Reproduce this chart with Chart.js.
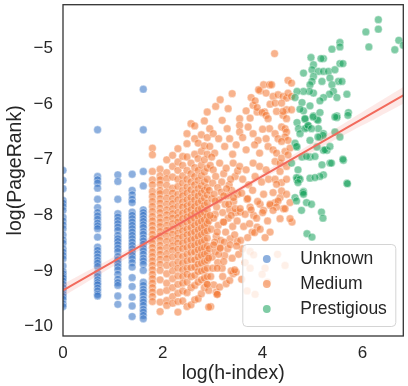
<!DOCTYPE html>
<html>
<head>
<meta charset="utf-8">
<script src="https://cdn.jsdelivr.net/npm/chart.js@4.4.1/dist/chart.umd.min.js"></script>
<style>
  html, body { margin: 0; padding: 0; background: #fff; }
  #wrap { width: 408px; height: 386px; }
</style>
</head>
<body>
<div id="wrap"><canvas id="chart"></canvas></div>
<script>
// categories and colours
const categories = ['Unknown', 'Medium', 'Prestigious'];
const catColors = ['rgba(45,110,195,0.55)', 'rgba(243,117,48,0.55)', 'rgba(20,160,90,0.55)'];

const xTicks = [0, 2, 4, 6];
const yTicks = [-10, -9, -8, -7, -6, -5];

// Unknown: h-index 1..5 -> discrete log columns
const unknownX = [0, 0.693, 1.099, 1.386, 1.609];
const unknownY = [
    [-7.19, -7.37, -7.52, -7.73, -7.78, -7.84, -7.91, -8.03, -8.1, -8.17, -8.24, -8.35, -8.44, -8.5, -8.6, -8.66, -8.72, -8.78, -8.91, -9.01, -9.05, -9.1, -9.13, -9.18, -9.24, -9.3, -9.36, -9.42, -9.46, -9.51, -9.59, -9.64],
    [-6.46, -7.3, -7.36, -7.42, -7.51, -7.71, -7.86, -7.95, -8.01, -8.07, -8.14, -8.19, -8.24, -8.39, -8.57, -8.63, -8.69, -8.75, -8.81, -8.86, -8.92, -9.04, -9.1, -9.16, -9.21, -9.25, -9.31, -9.36, -9.42, -9.45],
    [-7.27, -7.39, -7.71, -7.97, -8.03, -8.09, -8.15, -8.21, -8.27, -8.36, -8.42, -8.47, -8.53, -8.59, -8.65, -8.74, -8.8, -8.86, -8.92, -8.98, -9.06, -9.15, -9.21, -9.26, -9.45, -9.6],
    [-7.26, -7.55, -7.63, -7.71, -7.77, -7.94, -8.0, -8.06, -8.12, -8.18, -8.24, -8.3, -8.36, -8.42, -8.48, -8.54, -8.6, -8.66, -8.72, -8.78, -8.85, -8.93, -9.12, -9.28, -9.47, -9.63, -9.82],
    [-5.73, -6.46, -7.21, -7.47, -7.9, -7.95, -8.0, -8.06, -8.11, -8.17, -8.22, -8.29, -8.34, -8.41, -8.46, -8.52, -8.59, -8.64, -8.7, -8.77, -8.82, -8.88, -8.99, -9.2, -9.26, -9.33, -9.38, -9.44, -9.51, -9.56, -9.62, -9.69, -9.74, -9.8, -9.86]
];

// Medium: discrete columns for small h-index, then the continuous cloud
const mediumColX = [1.792, 1.946, 2.079, 2.197, 2.303, 2.398, 2.485, 2.565, 2.639, 2.708, 2.773, 2.833, 2.890];
const mediumColY = [
    [-6.79, -6.91, -7.21, -7.36, -7.45, -7.57, -7.66, -7.75, -7.84, -7.93, -8.02, -8.1, -8.18, -8.26, -8.34, -8.42, -8.5, -8.58, -8.66, -8.74, -8.82, -8.9, -8.98, -9.06, -9.14, -9.22, -9.3, -9.38, -9.46, -9.55],
    [-7.17, -7.29, -7.36, -7.44, -7.55, -7.61, -7.7, -7.78, -7.87, -7.95, -8.04, -8.12, -8.2, -8.29, -8.37, -8.45, -8.54, -8.62, -8.7, -8.79, -8.88, -8.99, -9.16, -9.38, -9.56, -9.73],
    [-7.0, -7.23, -7.34, -7.46, -7.58, -7.69, -7.8, -7.9, -7.99, -8.08, -8.18, -8.27, -8.37, -8.47, -8.58, -8.69, -8.78, -8.9, -9.05, -9.22, -9.35, -9.53, -9.62],
    [-6.92, -7.12, -7.31, -7.51, -7.6, -7.7, -7.79, -7.88, -7.97, -8.05, -8.15, -8.25, -8.34, -8.45, -8.55, -8.63, -8.75, -8.88, -9.0, -9.14, -9.3, -9.46, -9.58],
    [-6.8, -7.04, -7.19, -7.35, -7.48, -7.62, -7.72, -7.84, -7.95, -8.04, -8.12, -8.22, -8.32, -8.41, -8.5, -8.61, -8.72, -8.84, -8.95, -9.09, -9.24, -9.4, -9.55, -9.74],
    [-6.94, -7.1, -7.29, -7.42, -7.55, -7.65, -7.76, -7.85, -7.96, -8.06, -8.18, -8.28, -8.39, -8.5, -8.6, -8.74, -8.86, -8.98, -9.1, -9.22, -9.36, -9.54],
    [-6.53, -6.71, -6.95, -7.19, -7.35, -7.49, -7.6, -7.72, -7.83, -7.93, -8.03, -8.13, -8.25, -8.35, -8.46, -8.58, -8.7, -8.82, -8.95, -9.06, -9.2, -9.39, -9.64],
    [-6.35, -7.06, -7.25, -7.4, -7.54, -7.68, -7.8, -7.9, -8.0, -8.11, -8.22, -8.33, -8.44, -8.55, -8.67, -8.8, -8.94, -9.1, -9.3, -9.61],
    [-6.39, -6.62, -6.9, -7.14, -7.3, -7.45, -7.6, -7.72, -7.84, -7.96, -8.06, -8.18, -8.3, -8.42, -8.54, -8.66, -8.8, -8.93, -9.08, -9.26, -9.52],
    [-6.7, -6.98, -7.19, -7.37, -7.52, -7.65, -7.78, -7.9, -8.02, -8.14, -8.26, -8.38, -8.5, -8.62, -8.75, -8.88, -9.01, -9.2, -9.5],
    [-6.55, -6.85, -7.1, -7.29, -7.47, -7.6, -7.74, -7.88, -8.0, -8.11, -8.23, -8.35, -8.48, -8.6, -8.72, -8.86, -9.0, -9.16, -9.41],
    [-6.3, -6.75, -7.0, -7.22, -7.4, -7.55, -7.69, -7.82, -7.95, -8.08, -8.2, -8.31, -8.45, -8.58, -8.7, -8.83, -8.98, -9.13, -9.3],
    [-6.14, -6.6, -6.9, -7.15, -7.35, -7.5, -7.63, -7.78, -7.9, -8.02, -8.15, -8.28, -8.41, -8.55, -8.68, -8.81, -8.95, -9.1, -9.24]
];
const mediumCloud = [
    [2.94, -6.44], [3.01, -6.53], [3.19, -6.29], [3.29, -6.44], [3.34, -6.62], [2.94, -6.76], [3.04, -6.88], [3.24, -6.76],
    [3.47, -6.73], [3.06, -6.04], [3.15, -5.92], [3.31, -6.08], [3.39, -5.81], [3.54, -6.26], [3.54, -6.38], [3.54, -6.5],
    [3.12, -6.62], [3.4, -6.9], [2.98, -6.95],
    [2.95, -7.1], [3.01, -7.18], [3.06, -7.3], [3.14, -7.06], [3.18, -7.4], [3.22, -7.25], [3.27, -7.15], [3.33, -7.45],
    [3.41, -7.06], [3.45, -7.3], [3.5, -7.2], [3.0, -7.42], [3.1, -7.5], [3.36, -7.35],
    [2.93, -7.55], [2.98, -7.7], [3.03, -7.62], [3.08, -7.85], [3.13, -7.72], [3.17, -7.58], [3.2, -7.95], [3.25, -7.8],
    [3.3, -7.65], [3.34, -7.9], [3.38, -7.55], [3.42, -7.75], [3.46, -7.95], [3.5, -7.62], [3.05, -7.98], [3.28, -7.52],
    [2.92, -8.1], [2.97, -8.25], [3.02, -8.05], [3.07, -8.38], [3.11, -8.18], [3.16, -8.45], [3.21, -8.12], [3.26, -8.3],
    [3.31, -8.05], [3.35, -8.42], [3.4, -8.2], [3.44, -8.35], [3.49, -8.1], [3.04, -8.48], [3.23, -8.48], [3.37, -8.0],
    [2.93, -8.6], [2.99, -8.75], [3.05, -8.65], [3.1, -8.85], [3.15, -8.58], [3.19, -8.95], [3.24, -8.72], [3.0, -8.95],
    [3.3, -8.6], [3.12, -8.7],
    [2.96, -9.1], [3.02, -9.25], [3.07, -9.38], [3.14, -9.29], [3.27, -9.23], [3.34, -9.17], [3.41, -9.05], [3.47, -9.02],
    [3.37, -9.0], [3.44, -8.98], [2.92, -9.35], [2.96, -9.64], [3.09, -9.42], [3.2, -9.1],
    [3.05, -7.74], [3.22, -7.65], [3.32, -7.8], [3.42, -7.68], [3.45, -7.88], [3.55, -7.94], [3.69, -7.71], [3.75, -7.85],
    [3.82, -8.0], [3.95, -7.8], [4.02, -7.91], [4.15, -7.82], [4.25, -7.77], [4.35, -7.68], [4.42, -7.88], [4.55, -7.77],
    [4.59, -8.12], [3.79, -8.3], [3.89, -8.21], [4.15, -8.3], [3.22, -8.12], [3.09, -8.3], [2.95, -8.0], [3.02, -8.53],
    [3.15, -8.59], [3.35, -8.53], [3.49, -8.47], [2.92, -8.77], [3.09, -8.95], [3.22, -8.83], [3.39, -8.77], [2.89, -9.24],
    [3.09, -9.42], [2.92, -9.65],
    [3.67, -6.12], [3.77, -5.88], [3.81, -6.02], [3.89, -6.14], [4.04, -6.14], [3.95, -5.76], [4.02, -5.65], [4.07, -5.8],
    [4.14, -5.65], [3.92, -5.74], [3.85, -5.94], [3.89, -6.06], [3.99, -6.15], [4.15, -6.0], [3.71, -6.41], [3.81, -6.53],
    [3.91, -6.65], [4.07, -6.2], [4.11, -6.26], [4.14, -6.44], [4.07, -6.62], [4.11, -6.76], [3.67, -6.82], [3.84, -6.73],
    [3.94, -6.88], [3.6, -6.6], [3.75, -6.25], [4.0, -6.45],
    [3.54, -7.12], [3.67, -7.18], [3.81, -7.06], [3.94, -7.12], [4.07, -7.18], [3.6, -7.35], [3.72, -7.45], [3.85, -7.3],
    [3.98, -7.4], [4.12, -7.35], [3.58, -7.6], [3.7, -7.7], [3.8, -7.55], [3.9, -7.75], [4.02, -7.62], [4.15, -7.8],
    [3.55, -7.88], [3.65, -7.98], [3.77, -7.9], [3.88, -8.05], [4.0, -7.95], [4.1, -8.1], [3.62, -8.2], [3.74, -8.15],
    [3.84, -8.31], [3.95, -8.25], [4.05, -8.4], [3.56, -8.45], [3.7, -8.4],
    [3.52, -8.7], [3.6, -8.6], [3.65, -8.85], [3.48, -8.55], [3.75, -8.65], [3.82, -8.71], [4.05, -8.95], [3.99, -9.06],
    [3.75, -8.95], [3.69, -9.36], [3.85, -9.42], [4.3, -8.7], [4.45, -8.9], [4.1, -9.2], [3.58, -9.15],
    [4.41, -6.2], [4.48, -6.26], [4.38, -6.41], [4.45, -6.44], [4.48, -6.5], [4.25, -6.53], [4.31, -6.62], [4.45, -6.59],
    [4.51, -6.65], [4.38, -6.67], [4.21, -6.82], [4.28, -6.88], [4.25, -7.03], [4.35, -7.06], [4.45, -6.85], [4.55, -6.79],
    [4.38, -6.97], [4.51, -6.91], [4.48, -7.12], [4.35, -7.21], [4.25, -7.35], [4.38, -7.41], [4.48, -7.35], [4.28, -7.44],
    [4.21, -7.59], [4.38, -7.56], [4.48, -7.62], [4.31, -7.74], [4.28, -7.85], [4.45, -7.88], [4.21, -7.91], [4.35, -8.06],
    [4.55, -8.06],
    [4.24, -5.09], [4.18, -5.65], [4.21, -5.86], [4.25, -5.98], [4.31, -5.83], [4.41, -5.86], [4.48, -5.89], [4.51, -5.57],
    [4.58, -5.62], [4.51, -5.8], [4.58, -5.86], [4.38, -5.98], [4.48, -6.1], [4.28, -6.13], [4.41, -6.13], [4.58, -6.1]
];

// Prestigious
const prestigious = [
    [6.32, -4.48], [6.32, -4.65], [6.07, -4.7], [6.13, -4.97], [6.73, -4.85], [6.65, -5.02], [6.82, -4.94], [5.55, -4.89],
    [5.55, -4.97], [5.39, -5.01], [5.22, -5.18], [5.17, -5.18], [4.97, -5.16], [5.02, -5.29], [4.99, -5.38], [5.12, -5.41],
    [5.22, -5.41], [5.32, -5.41], [5.45, -5.38], [5.55, -5.27], [5.61, -5.27], [4.82, -5.44], [5.02, -5.5], [4.99, -5.59],
    [4.95, -5.65], [5.19, -5.59], [5.35, -5.53], [5.52, -5.59], [5.59, -5.59], [5.39, -5.65], [5.42, -5.77], [5.49, -5.88],
    [5.34, -5.82], [5.22, -5.88], [5.15, -5.94], [5.02, -5.8], [4.94, -5.77], [4.82, -5.77], [4.69, -5.77], [4.65, -5.88],
    [4.79, -5.97], [4.82, -6.12], [4.75, -6.09], [4.95, -6.03], [5.02, -6.21], [5.15, -6.15], [5.09, -6.27], [4.85, -6.27],
    [4.69, -6.33], [4.72, -6.44], [4.75, -6.53], [4.89, -6.42], [4.92, -6.39], [5.12, -6.44], [5.22, -6.53], [5.45, -6.5],
    [5.69, -5.82], [5.72, -6.15], [5.49, -6.21], [5.49, -6.24], [5.15, -6.59], [4.95, -6.65], [4.69, -6.77], [4.79, -6.95],
    [4.95, -6.95], [5.29, -6.83], [5.22, -6.83], [5.09, -6.77], [5.55, -6.59], [5.19, -7.09], [5.35, -7.06], [5.62, -7.01],
    [5.22, -7.27], [5.15, -7.3], [4.95, -7.33], [4.72, -7.33], [4.69, -7.36], [5.69, -7.42], [4.82, -7.57],
    [4.65, -6.7], [4.68, -6.76], [4.58, -7.06], [4.71, -7.18], [4.68, -7.32], [4.75, -7.35], [4.71, -7.41], [4.81, -7.59],
    [4.65, -7.68], [4.68, -7.74], [4.88, -7.77], [4.98, -7.8], [4.78, -7.91], [5.18, -7.94], [5.21, -8.05], [5.05, -7.32],
    [5.38, -7.06], [5.61, -6.99], [5.7, -7.43], [4.88, -6.94], [5.05, -6.94], [5.25, -6.82], [5.21, -6.56], [5.35, -6.76],
    [5.11, -6.59], [4.85, -6.44], [4.91, -6.38], [4.98, -6.44], [5.11, -6.29], [5.45, -6.23], [5.71, -6.2], [5.01, -6.23],
    [4.85, -6.26], [4.82, -7.62], [4.89, -8.33], [4.99, -8.39]
];

// regression fit and its confidence band
const fitX = [0, 6.82];
const fitY = [-9.35, -5.84];
const bandX = [0, 1, 2, 3, 4, 5, 6, 6.82];
const bandLow = [-9.46, -8.92, -8.37, -7.85, -7.34, -6.86, -6.38, -5.99];
const bandHigh = [-9.24, -8.76, -8.27, -7.77, -7.24, -6.70, -6.14, -5.69];

const unknownPts = [];
unknownX.forEach((x, i) => unknownY[i].forEach(y => unknownPts.push({ x, y })));
const mediumPts = [];
mediumColX.forEach((x, i) => mediumColY[i].forEach(y => mediumPts.push({ x, y })));
mediumCloud.forEach(p => mediumPts.push({ x: p[0], y: p[1] }));
const prestigePts = prestigious.map(p => ({ x: p[0], y: p[1] }));

const textColor = '#262626';
const fontFamily = '"Liberation Sans", Arial, sans-serif';

const framePlugin = {
    id: 'frame',
    afterDatasetsDraw(chart) {
        const { ctx, chartArea: a } = chart;
        ctx.save();
        ctx.strokeStyle = '#333';
        ctx.lineWidth = 1.3;
        ctx.strokeRect(a.left, a.top, a.right - a.left, a.bottom - a.top);
        ctx.restore();
    }
};

// legend drawn inside the plot, lower right
const boxLegend = {
    id: 'boxLegend',
    afterDraw(chart) {
        const { ctx, chartArea: a } = chart;
        const w = 153, h = 82;
        const left = a.right - 8 - w, top = a.bottom - 10 - h;
        ctx.save();
        ctx.beginPath();
        ctx.roundRect(left + 0.5, top + 0.5, w, h, 4);
        ctx.fillStyle = 'rgba(255,255,255,0.8)';
        ctx.fill();
        ctx.strokeStyle = '#d4d4d4';
        ctx.lineWidth = 1;
        ctx.stroke();
        ctx.font = '17.5px ' + fontFamily;
        ctx.textBaseline = 'middle';
        ctx.textAlign = 'left';
        categories.forEach((c, i) => {
            const cy = top + 15 + i * 25;
            ctx.beginPath();
            ctx.arc(left + 24.5, cy, 3.9, 0, Math.PI * 2);
            ctx.fillStyle = catColors[i];
            ctx.fill();
            ctx.fillStyle = textColor;
            ctx.fillText(c, left + 58, cy + 0.5);
        });
        ctx.restore();
    }
};

const pointStyle = color => ({
    backgroundColor: color,
    borderColor: 'rgba(255,255,255,0.55)',
    borderWidth: 0.7,
    pointRadius: 3.9,
    clip: 0
});

new Chart(document.getElementById('chart'), {
    type: 'scatter',
    data: {
        datasets: [
            {
                label: 'fit',
                data: fitX.map((x, i) => ({ x, y: fitY[i] })),
                showLine: true,
                borderColor: '#f26a5c',
                borderWidth: 2,
                pointRadius: 0,
                clip: 0
            },
            {
                label: 'band-high',
                data: bandX.map((x, i) => ({ x, y: bandHigh[i] })),
                showLine: true,
                borderWidth: 0,
                pointRadius: 0,
                backgroundColor: 'rgba(242,106,92,0.15)',
                fill: '+1',
                tension: 0.3,
                clip: 0
            },
            {
                label: 'band-low',
                data: bandX.map((x, i) => ({ x, y: bandLow[i] })),
                showLine: true,
                borderWidth: 0,
                pointRadius: 0,
                tension: 0.3,
                clip: 0
            },
            { label: categories[2], data: prestigePts, ...pointStyle(catColors[2]) },
            { label: categories[1], data: mediumPts, ...pointStyle(catColors[1]) },
            { label: categories[0], data: unknownPts, ...pointStyle(catColors[0]) }
        ]
    },
    options: {
        responsive: true,
        maintainAspectRatio: false,
        animation: false,
        devicePixelRatio: 1,
        events: [],
        layout: { padding: { top: 2, right: 4, left: 0, bottom: 0 } },
        plugins: { legend: { display: false }, tooltip: { enabled: false } },
        scales: {
            x: {
                type: 'linear',
                min: 0,
                max: 6.82,
                grid: { display: false, drawTicks: false },
                border: { display: false },
                ticks: { padding: 7, color: textColor, font: { family: fontFamily, size: 17 } },
                title: {
                    display: true,
                    text: 'log(h-index)',
                    color: textColor,
                    font: { family: fontFamily, size: 19.5 },
                    padding: { top: 0, bottom: 1 }
                },
                afterBuildTicks: s => { s.ticks = xTicks.map(v => ({ value: v })); },
                afterFit: s => { s.height = 50; s.paddingLeft = 0; s.paddingRight = 0; }
            },
            y: {
                min: -10.17,
                max: -4.21,
                grid: { display: false, drawTicks: false },
                border: { display: false },
                ticks: {
                    padding: 10,
                    color: textColor,
                    font: { family: fontFamily, size: 17 },
                    callback: v => String(v).replace('-', '\u2212')
                },
                title: {
                    display: true,
                    text: 'log(PageRank)',
                    color: textColor,
                    font: { family: fontFamily, size: 19.5 },
                    padding: { top: 4, bottom: 0 }
                },
                afterBuildTicks: s => { s.ticks = yTicks.map(v => ({ value: v })); },
                afterFit: s => { s.width = 63; s.paddingTop = 0; s.paddingBottom = 0; }
            }
        }
    },
    plugins: [framePlugin, boxLegend]
});
</script>
</body>
</html>
